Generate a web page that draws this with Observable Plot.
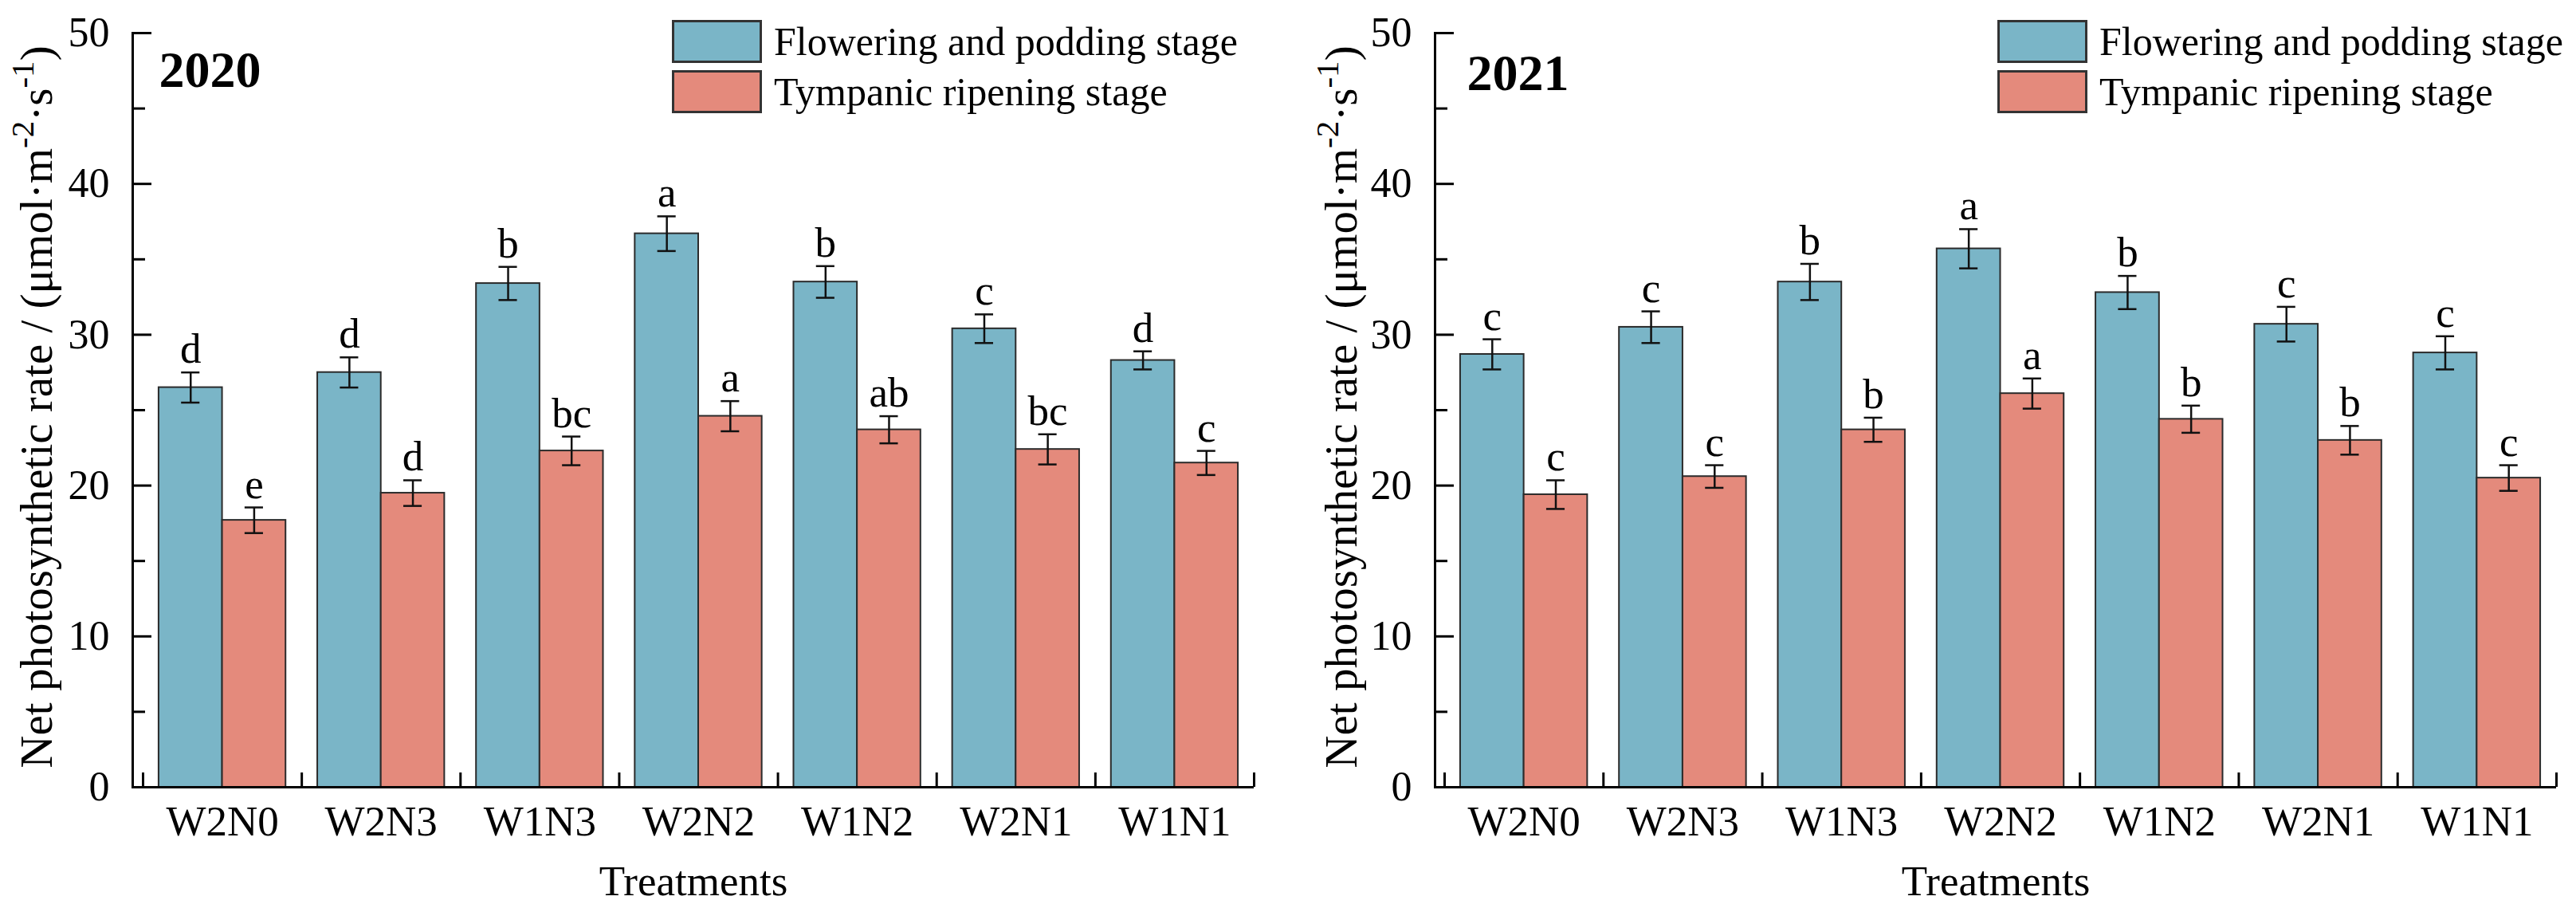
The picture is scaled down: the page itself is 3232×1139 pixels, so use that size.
<!DOCTYPE html>
<html><head><meta charset="utf-8">
<script src="https://cdn.jsdelivr.net/npm/d3@7"></script>
<script src="https://cdn.jsdelivr.net/npm/@observablehq/plot@0.6"></script>
<style>
html,body{margin:0;padding:0;background:#fff;overflow:hidden;}
#wrap{display:flex;width:3232px;height:1139px;}
.panel{position:relative;width:1616px;height:1139px;}
.panel svg{display:block;}
.legend{position:absolute;top:25px;font-family:"Liberation Serif",serif;font-size:50px;color:#000;}
.row{display:flex;align-items:center;height:54px;margin-bottom:9px;}
.sw{width:113px;height:54px;box-sizing:border-box;border:3px solid #333;}
.lt{margin-left:15px;line-height:54px;white-space:nowrap;}
</style></head><body><div id="wrap"></div>
<script>
// ---- data ----
const treatments = ["W2N0", "W2N3", "W1N3", "W2N2", "W1N2", "W2N1", "W1N1"];
const stages = ["Flowering and podding stage", "Tympanic ripening stage"];
const years = ["2020", "2021"];

const flower2020 = [26.5, 27.5, 33.4, 36.7, 33.5, 30.4, 28.3];
const flowerSe2020 = [1.0, 1.0, 1.1, 1.15, 1.05, 0.95, 0.6];
const flowerSig2020 = ["d", "d", "b", "a", "b", "c", "d"];
const ripen2020 = [17.7, 19.5, 22.3, 24.6, 23.7, 22.4, 21.5];
const ripenSe2020 = [0.85, 0.85, 0.95, 1.0, 0.9, 1.0, 0.8];
const ripenSig2020 = ["e", "d", "bc", "a", "ab", "bc", "c"];

const flower2021 = [28.7, 30.5, 33.5, 35.7, 32.8, 30.7, 28.8];
const flowerSe2021 = [1.0, 1.05, 1.2, 1.3, 1.1, 1.15, 1.1];
const flowerSig2021 = ["c", "c", "b", "a", "b", "c", "c"];
const ripen2021 = [19.4, 20.6, 23.7, 26.1, 24.4, 23.0, 20.5];
const ripenSe2021 = [0.95, 0.75, 0.8, 1.0, 0.9, 0.95, 0.85];
const ripenSig2021 = ["c", "c", "b", "a", "b", "b", "c"];

const yTicks = [0, 10, 20, 30, 40, 50];
const yMinorTicks = [5, 15, 25, 35, 45];
// y title pieces: [text, isSuperscript]
const yTitleParts = [["Net photosynthetic rate / (\u03bcmol\u00b7m", false], ["-2", true], ["\u00b7s", false], ["-1", true], [")", false]];
const yTitle = yTitleParts.map(p => p[0]).join("");
const xTitle = "Treatments";

// ---- styling / layout ----
const colors = ["#7ab5c7", "#e48a7c"];
const font = '"Liberation Serif", "Times New Roman", serif';
const titleSize = 57;
const panelsCfg = [
  {year: years[0], flower: flower2020, fse: flowerSe2020, fsig: flowerSig2020,
   ripen: ripen2020, rse: ripenSe2020, rsig: ripenSig2020,
   ml: 166, mr: 43, inset: 13, ydx: 33, ydy: 22, tdx: -120, legendLeft: 843},
  {year: years[1], flower: flower2021, fse: flowerSe2021, fsig: flowerSig2021,
   ripen: ripen2021, rse: ripenSe2021, rsig: ripenSig2021,
   ml: 184, mr: 25, inset: 12, ydx: 40, ydy: 26, tdx: -117, legendLeft: 890}
];

const wrap = document.getElementById("wrap");
const capHalf = 0.058; // cap half-width in band units

for (const P of panelsCfg) {
  const rows = treatments.flatMap((t, i) => [
    {t, i, s: 0, stage: stages[0], value: P.flower[i], se: P.fse[i], sig: P.fsig[i]},
    {t, i, s: 1, stage: stages[1], value: P.ripen[i], se: P.rse[i], sig: P.rsig[i]}
  ]);
  const cx = d => d.i + 0.3 + 0.4 * d.s;
  const hi = d => d.value + d.se;
  const lo = d => d.value - d.se;

  const chart = Plot.plot({
    width: 1616, height: 1139,
    marginTop: 41, marginBottom: 152, marginLeft: P.ml, marginRight: P.mr,
    style: {fontFamily: font, fontSize: "52px", color: "#000", background: "#fff"},
    x: {domain: [0, treatments.length], insetLeft: P.inset},
    y: {domain: [0, 50]},
    color: {domain: stages, range: colors},
    marks: [
      Plot.rect(rows, {x1: d => d.i + 0.1 + 0.4 * d.s, x2: d => d.i + 0.5 + 0.4 * d.s,
        y1: 0, y2: "value", fill: "stage", stroke: "#2b2b2b", strokeWidth: 2}),
      Plot.ruleX(rows, {x: cx, y1: lo, y2: hi, stroke: "#111", strokeWidth: 2.5}),
      Plot.ruleY(rows, {y: hi, x1: d => cx(d) - capHalf, x2: d => cx(d) + capHalf, stroke: "#111", strokeWidth: 2.5}),
      Plot.ruleY(rows, {y: lo, x1: d => cx(d) - capHalf, x2: d => cx(d) + capHalf, stroke: "#111", strokeWidth: 2.5}),
      Plot.text(rows, {x: cx, y: hi, text: "sig", lineAnchor: "bottom", dy: -12, fontSize: 53, fill: "#000"}),
      Plot.axisY({ticks: yTicks, tickSize: 0, tickPadding: 29, fontSize: 52, label: null}),
      Plot.axisY({ticks: yTicks, tickSize: -24, tickFormat: () => "", strokeWidth: 3, stroke: "#000", label: null}),
      Plot.axisY({ticks: yMinorTicks, tickSize: -16, tickFormat: () => "", strokeWidth: 3, stroke: "#000", label: null}),
      Plot.axisX({ticks: d3.range(treatments.length + 1), tickSize: -18, tickFormat: () => "", strokeWidth: 3, stroke: "#000", label: null}),
      Plot.axisX({ticks: treatments.map((t, i) => i + 0.5), tickSize: 0, tickPadding: 23, fontSize: 53,
        tickFormat: v => treatments[Math.round(v - 0.5)], label: null}),
      Plot.frame({anchor: "left", stroke: "#000", strokeWidth: 3}),
      Plot.ruleY([0], {stroke: "#000", strokeWidth: 3}),
      Plot.text([P.year], {frameAnchor: "top-left", dx: P.ydx, dy: P.ydy, lineAnchor: "top", textAnchor: "start",
        fontWeight: "bold", fontSize: 64, fill: "#000"}),
      Plot.text([yTitle], {frameAnchor: "left", rotate: -90, dx: P.tdx, dy: -4, textAnchor: "middle", lineAnchor: "middle", fontSize: titleSize, fill: "#000"}),
      Plot.text([xTitle], {frameAnchor: "bottom", lineAnchor: "bottom", textAnchor: "middle", dy: 135, fontSize: 53, fill: "#000"})
    ]
  });

  // turn "-2" / "-1" of the y title into raised superscripts
  chart.querySelectorAll("text").forEach(el => {
    if (el.textContent !== yTitle) return;
    el.textContent = "";
    let shifted = false;
    const shift = titleSize * 0.4;
    for (const [str, sup] of yTitleParts) {
      const ts = document.createElementNS("http://www.w3.org/2000/svg", "tspan");
      ts.textContent = str;
      if (sup) { ts.setAttribute("font-size", titleSize * 0.72); ts.setAttribute("dy", -shift); shifted = true; }
      else if (shifted) { ts.setAttribute("dy", shift); shifted = false; }
      el.appendChild(ts);
    }
  });

  const panel = document.createElement("div");
  panel.className = "panel";
  panel.appendChild(chart);
  const legend = document.createElement("div");
  legend.className = "legend";
  legend.style.left = P.legendLeft + "px";
  stages.forEach((s, k) => {
    const row = document.createElement("div");
    row.className = "row";
    const sw = document.createElement("div");
    sw.className = "sw";
    sw.style.background = colors[k];
    const lt = document.createElement("span");
    lt.className = "lt";
    lt.textContent = s;
    row.appendChild(sw);
    row.appendChild(lt);
    legend.appendChild(row);
  });
  panel.appendChild(legend);
  wrap.appendChild(panel);
}
</script>
</body></html>
